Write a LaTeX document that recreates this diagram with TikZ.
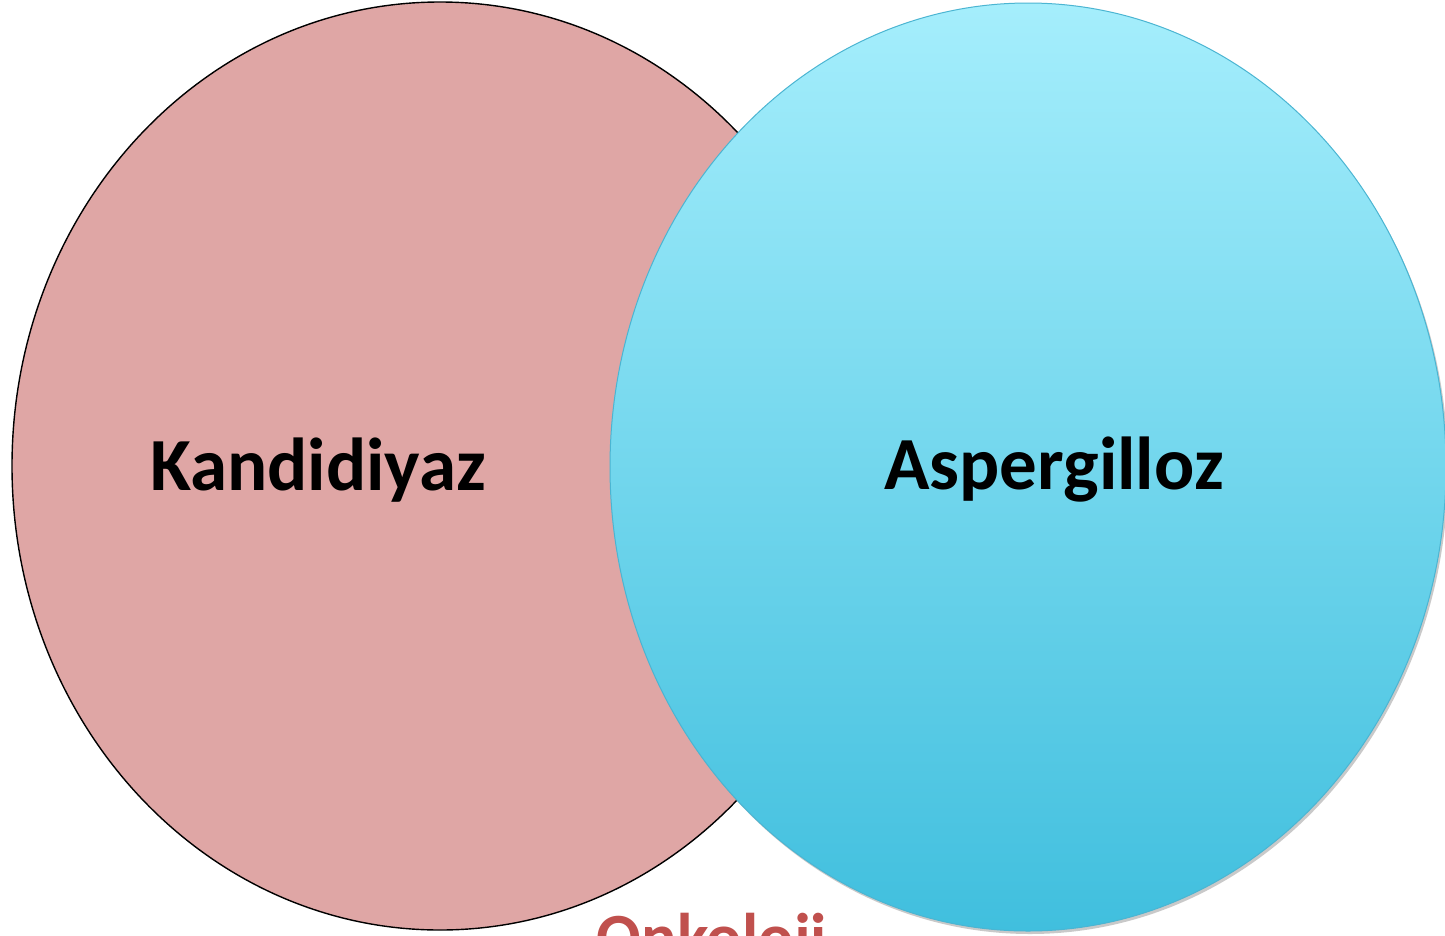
\documentclass[tikz,border=0pt]{standalone}
\usepackage{fontspec}
\setmainfont{Carlito}
\usetikzlibrary{shadows,shapes.geometric}
\definecolor{pinkfill}{HTML}{DFA6A5}
\definecolor{bluetop}{HTML}{A5EEFC}
\definecolor{bluebot}{HTML}{40BFDE}
\definecolor{blueline}{HTML}{4BB5D2}
\definecolor{onkred}{HTML}{C0504D}
\tikzset{
  lbl/.style={font=\fontsize{75}{80}\selectfont\bfseries, text=black},
}
\begin{document}
\begin{tikzpicture}[x=1pt,y=-1pt]
\useasboundingbox (0,0) rectangle (1445,935);
\clip (0,0) rectangle (1445,935);
\fill[white] (0,0) rectangle (1445,935);
\node[ellipse, draw=black, line width=1.4pt, fill=pinkfill, minimum width=856pt, minimum height=928pt, inner sep=0pt] (cand) at (440,466) {};
\node[font=\fontsize{66}{70}\selectfont\bfseries, text=onkred, anchor=base] (onk) at (712,959) {Onkoloji};
\node[ellipse, draw=blueline, line width=1pt, top color=bluetop, bottom color=bluebot, minimum width=836pt, minimum height=928pt, inner sep=0pt, drop shadow={shadow xshift=2pt, shadow yshift=-3pt, opacity=0.35, fill=black!60}] (asp) at (1028,467) {};
\node[lbl] (kt) at (318,470) {Kandidiyaz};
\node[lbl] (at) at (1054,470) {Aspergilloz};
\end{tikzpicture}
\end{document}
